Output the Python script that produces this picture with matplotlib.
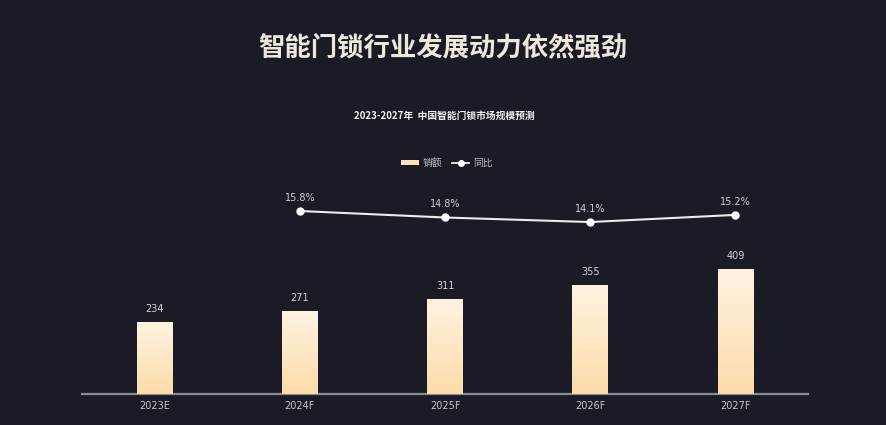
import numpy as np
import matplotlib
matplotlib.use("Agg")
import matplotlib.pyplot as plt
from matplotlib.lines import Line2D
from matplotlib.patches import Patch
from matplotlib.colors import LinearSegmentedColormap

plt.rcParams['font.family'] = ['Noto Sans CJK SC', 'DejaVu Sans']

categories = ["2023E", "2024F", "2025F", "2026F", "2027F"]
sales = [234, 271, 311, 355, 409]
yoy_x = ["2024F", "2025F", "2026F", "2027F"]
yoy = [15.8, 14.8, 14.1, 15.2]

title = "智能门锁行业发展动力依然强劲"
subtitle = "2023-2027年  中国智能门锁市场规模预测"
legend_labels = ["销额", "同比"]

BG = "#1b1b26"
W, H = 886, 425
fig = plt.figure(figsize=(W / 100, H / 100), dpi=100, facecolor=BG)

ax_l, ax_r, ax_b, ax_t = 82, 808, 394, 180
ax = fig.add_axes([ax_l / W, 1 - ax_b / H, (ax_r - ax_l) / W, (ax_b - ax_t) / H])
ax.set_facecolor("none")

x = np.arange(len(categories))
bars = ax.bar(x, sales, width=0.245, color="#fde6c2", edgecolor="none", zorder=2)
ax.set_xlim(-0.5, len(categories) - 0.5)
ax.set_ylim(0, (ax_b - ax_t) / 0.306)

# gradient fill clipped to each bar
cmap = LinearSegmentedColormap.from_list("g", ["#fcdca9", "#fff3e1"])
grad = np.linspace(0, 1, 256).reshape(-1, 1)
for b in bars:
    bx, by, bw, bh = b.get_x(), b.get_y(), b.get_width(), b.get_height()
    im = ax.imshow(grad, extent=[bx, bx + bw, by, by + bh], origin="lower",
                   aspect="auto", cmap=cmap, zorder=3)
    im.set_clip_path(b)
ax.set_xlim(-0.5, len(categories) - 0.5)
ax.set_ylim(0, (ax_b - ax_t) / 0.306)

for xi, v in zip(x, sales):
    ax.annotate(str(v), (xi, v), xytext=(0, 6), textcoords="offset points",
                ha="center", va="bottom", fontsize=7, color="#d6d6d6",
                family=["DejaVu Sans"])

for s in ["top", "right", "left"]:
    ax.spines[s].set_visible(False)
ax.spines["bottom"].set_color("#8a8a96")
ax.spines["bottom"].set_linewidth(1.6)
ax.set_yticks([])
ax.set_xticks(x)
ax.set_xticklabels(categories, fontsize=7, color="#c9c9c9", family=["DejaVu Sans"])
ax.tick_params(axis="x", length=0, pad=5)

ax2 = ax.twinx()
ax2.set_facecolor("none")
ax2.axis("off")
px_per = 6.5
span = (ax_b - ax_t) / px_per
ymin = 15.8 - (ax_b - 211) / px_per
ax2.set_ylim(ymin, ymin + span)
xi2 = [categories.index(c) for c in yoy_x]
ax2.plot(xi2, yoy, color="#ececec", lw=1.5, marker="o", ms=5,
         markerfacecolor="#ffffff", markeredgecolor="#ffffff", zorder=4)
for xx, v in zip(xi2, yoy):
    ax2.annotate(f"{v:.1f}%", (xx, v), xytext=(0, 6), textcoords="offset points",
                 ha="center", va="bottom", fontsize=7, color="#d0d0d0",
                 family=["DejaVu Sans"])

fig.text(443 / W, 1 - 48 / H, title, ha="center", va="center", fontsize=19,
         color="#ede7dc", fontweight="bold")
fig.text(444 / W, 1 - 116 / H, subtitle, ha="center", va="center", fontsize=7,
         color="#f2f2f2", fontweight="bold")

handles = [Patch(facecolor="#fde3b8", edgecolor="none"),
           Line2D([0], [0], color="#ececec", lw=1.3, marker="o", ms=4,
                  markerfacecolor="white", markeredgecolor="white")]
fig.legend(handles, legend_labels, loc="center", bbox_to_anchor=(447 / W, 1 - 163 / H),
           ncol=2, frameon=False, fontsize=7, labelcolor="#bdbdbd",
           handlelength=1.8, handleheight=0.45, columnspacing=1.0, handletextpad=0.4)

fig.savefig("out.png", dpi=100, facecolor=BG)
